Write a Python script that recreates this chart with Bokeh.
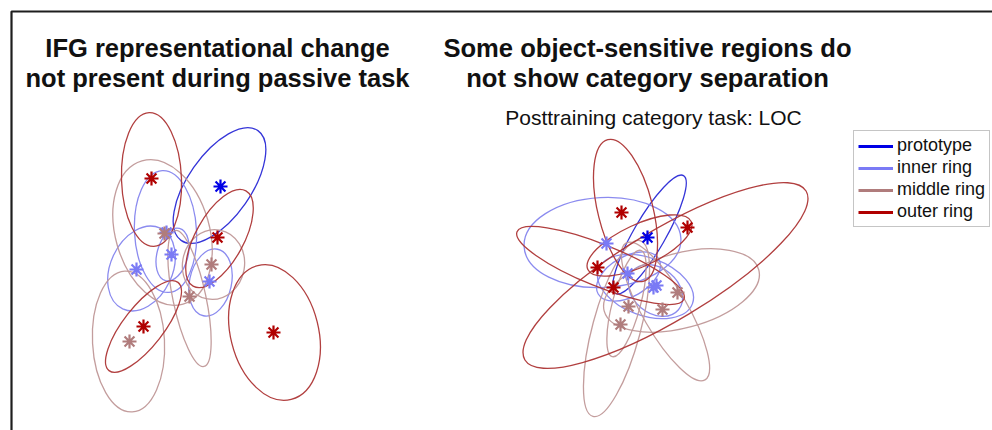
import math
from bokeh.plotting import figure
from bokeh.models import Range1d, Label, Legend, LegendItem
from bokeh.embed import file_html
from bokeh.resources import INLINE

# ---------------- data ----------------
groups = ["prototype", "inner ring", "middle ring", "outer ring"]
group_colors = ["#0000e6", "#7a7af5", "#b07c7c", "#b00000"]
ellipse_colors = ["#2a2ad6", "#8585ee", "#c09898", "#ad3535"]

# left panel: IFG (passive task)
L_ell_group = [0, 1, 1, 1, 1, 2, 2, 2, 2, 3, 3, 3, 3]
L_ell_x = [219, 165, 172, 141, 210, 162, 213, 189, 128, 151, 219, 143, 274]
L_ell_y = [245, 199, 176, 162, 148, 198, 166, 132, 89, 251, 192, 104, 98]
L_ell_major = [134, 122, 54, 89, 68, 149, 70, 139, 141, 134, 109, 112, 138]
L_ell_minor = [63, 62, 31, 62, 42, 94, 62, 33, 72, 60, 48, 40, 88]
L_ell_angle = [55, 93, 75, 65, 78, 106, 80, 102, 93, 92, 61, 52, 104]

L_star_group = [0, 1, 1, 1, 1, 2, 2, 2, 2, 3, 3, 3, 3]
L_star_x = [220, 166, 171, 136, 209, 164, 211, 189, 129, 151, 217, 143, 273]
L_star_y = [244, 198, 176, 161, 149, 197, 166, 134, 89, 252, 193, 104, 98]

# right panel: LOC (posttraining category task)
R_ell_group = [0, 1, 1, 1, 1, 2, 2, 2, 2, 3, 3, 3, 3]
R_ell_x = [649, 602, 645, 628, 655, 681, 665, 616, 626, 625, 665, 600, 639]
R_ell_y = [196, 188, 144, 154, 140, 140, 119, 102, 127, 220, 155, 165, 185]
R_ell_major = [136, 157, 100, 70, 60, 160, 158, 182, 110, 146, 328, 180, 114]
R_ell_minor = [32, 90, 58, 40, 45, 75, 45, 48, 28, 55, 90, 42, 42]
R_ell_angle = [60, 3, -20, 30, -40, 15, 120, 75, 75, 104, 31, -22, 25]

R_star_group = [0, 1, 1, 1, 1, 2, 2, 2, 2, 3, 3, 3, 3]
R_star_x = [647, 606, 627, 653, 656, 677, 662, 628, 620, 621, 687, 597, 613]
R_star_y = [193, 187, 157, 143, 145, 138, 121, 124, 106, 218, 203, 163, 143]

left_title = ["IFG representational change", "not present during passive task"]
right_title = ["Some object-sensitive regions do", "not show category separation"]
right_subtitle = "Posttraining category task: LOC"

# ---------------- figure ----------------
W, H = 992, 430
p = figure(width=W, height=H, x_range=Range1d(0, W), y_range=Range1d(0, H),
           output_backend="svg", toolbar_location=None, min_border=0)
p.axis.visible = False
p.grid.visible = False
p.outline_line_color = None
p.background_fill_color = "white"

# frame (top and left rules)
p.line(x=[992, 11, 11], y=[419, 419, 0], line_color="#1e1e1e", line_width=2.2)


def draw_panel(eg, ex, ey, emaj, emin, eang, sg, sx, sy):
    for g in range(len(groups)):
        idx = [i for i, v in enumerate(eg) if v == g]
        if idx:
            p.ellipse(x=[ex[i] for i in idx], y=[ey[i] for i in idx],
                      width=[emaj[i] for i in idx], height=[emin[i] for i in idx],
                      angle=[eang[i] for i in idx], angle_units="deg",
                      fill_color=None, line_color=ellipse_colors[g],
                      line_width=1.3, line_alpha=0.95)
    for g in range(len(groups)):
        idx = [i for i, v in enumerate(sg) if v == g]
        if idx:
            p.scatter(x=[sx[i] for i in idx], y=[sy[i] for i in idx],
                      marker="asterisk", size=14, line_width=2.2,
                      line_color=group_colors[g])


draw_panel(L_ell_group, L_ell_x, L_ell_y, L_ell_major, L_ell_minor, L_ell_angle,
           L_star_group, L_star_x, L_star_y)
draw_panel(R_ell_group, R_ell_x, R_ell_y, R_ell_major, R_ell_minor, R_ell_angle,
           R_star_group, R_star_x, R_star_y)

# titles
FONT = "Liberation Sans"
for i, t in enumerate(left_title):
    p.add_layout(Label(x=217, y=383 - 30 * i, text=t, text_align="center",
                       text_baseline="alphabetic", text_font=FONT,
                       text_font_style="bold", text_font_size="25.5px",
                       text_color="#111111"))
for i, t in enumerate(right_title):
    p.add_layout(Label(x=647, y=383 - 30 * i, text=t, text_align="center",
                       text_baseline="alphabetic", text_font=FONT,
                       text_font_style="bold", text_font_size="25.6px",
                       text_color="#111111"))
p.add_layout(Label(x=653, y=313, text=right_subtitle, text_align="center",
                   text_baseline="alphabetic", text_font=FONT,
                   text_font_size="21px", text_color="#111111"))

# legend
nan = float("nan")
items = []
for g, name in enumerate(groups):
    r = p.line(x=[nan, nan], y=[nan, nan], line_color=group_colors[g], line_width=3)
    items.append(LegendItem(label=name, renderers=[r]))
legend = Legend(items=items, location=(853, 203), orientation="vertical",
                border_line_color="#8c8c8c", border_line_width=1,
                background_fill_color="white", background_fill_alpha=1,
                label_text_font=FONT, label_text_font_size="18px",
                label_text_color="#111111",
                glyph_width=35, glyph_height=20, label_height=20,
                spacing=1, padding=4, margin=0, label_standoff=4)
p.add_layout(legend)

open("out.html", "w").write(file_html(p, INLINE))
